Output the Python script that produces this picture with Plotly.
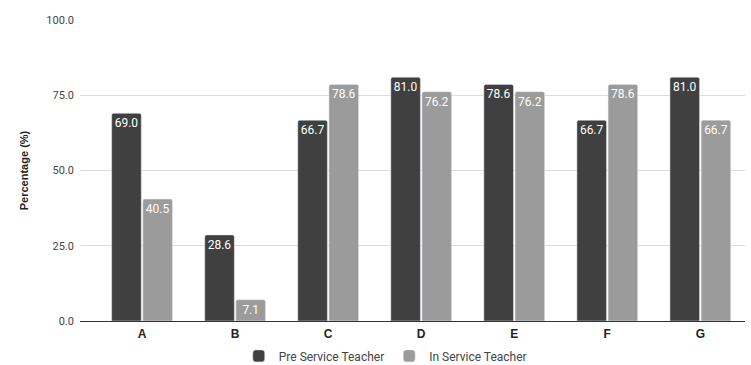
import plotly.graph_objects as go

categories = ["A", "B", "C", "D", "E", "F", "G"]
pre_service = [69.0, 28.6, 66.7, 81.0, 78.6, 66.7, 81.0]
in_service = [40.5, 7.1, 78.6, 76.2, 76.2, 78.6, 66.7]
y_ticks = [0, 25, 50, 75, 100]
y_tick_labels = ["0.0", "25.0", "50.0", "75.0", "100.0"]

fig = go.Figure()
fig.add_trace(go.Bar(
    x=categories, y=pre_service, name="Pre Service Teacher",
    marker=dict(color="#404040", cornerradius=2),
    text=[f"{v:.1f}" for v in pre_service],
    textposition="inside", insidetextanchor="end", textangle=0,
    textfont=dict(color="#ffffff", size=12, family="Roboto, Arial, sans-serif"),
))
fig.add_trace(go.Bar(
    x=categories, y=in_service, name="In Service Teacher",
    marker=dict(color="#9b9b9b", cornerradius=2),
    text=[f"{v:.1f}" for v in in_service],
    textposition="inside", insidetextanchor="end", textangle=0,
    textfont=dict(color="#ffffff", size=12, family="Roboto, Arial, sans-serif"),
))

fig.update_layout(
    width=751, height=365,
    margin=dict(l=80, r=6, t=20, b=44, autoexpand=False),
    paper_bgcolor="white", plot_bgcolor="white",
    barmode="group", bargap=0.33, bargroupgap=0.05,
    font=dict(family="Roboto, Arial, sans-serif", size=11, color="#444444"),
    showlegend=True,
    legend=dict(orientation="h", xref="container", x=0.513, xanchor="center",
                yref="container", y=0.025, yanchor="middle",
                font=dict(size=12, color="#444444"), itemwidth=30,
                traceorder="normal"),
    uniformtext=dict(minsize=8, mode="show"),
)
fig.update_xaxes(
    range=[-0.667, 6.48], showgrid=False, ticks="", showline=False,
    automargin=False, ticklabelstandoff=4,
    tickfont=dict(size=12, color="#222222", family="Arial, sans-serif", weight="bold"),
)
fig.update_yaxes(
    range=[0, 100], tickvals=y_ticks, ticktext=y_tick_labels,
    showgrid=True, gridcolor="#dddddd", gridwidth=1,
    zeroline=True, zerolinecolor="#333333", zerolinewidth=1,
    ticks="", ticklabelstandoff=5, automargin=False,
    tickfont=dict(size=11, color="#444444"),
    title=dict(text="<b>Percentage (%)</b>", standoff=15,
               font=dict(size=11, color="#222222", family="Arial, sans-serif")),
)

fig.write_html("out.html")
